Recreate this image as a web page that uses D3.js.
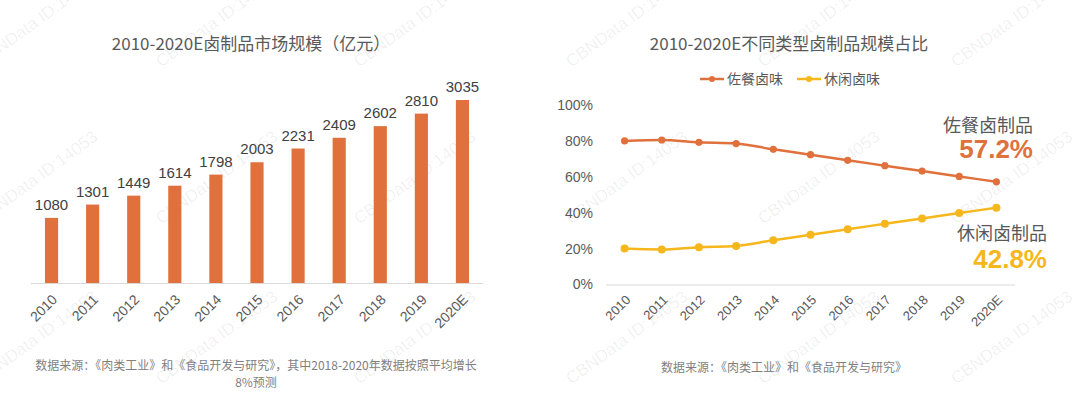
<!DOCTYPE html>
<html><head><meta charset="utf-8">
<script src="https://cdn.jsdelivr.net/npm/d3@7/dist/d3.min.js"></script>
<style>
html,body{margin:0;padding:0;background:#fff;}
svg{display:block;}
</style></head>
<body>
<svg id="chart" width="1080" height="399"></svg>
<script>
// ---- data ----
const years = ["2010","2011","2012","2013","2014","2015","2016","2017","2018","2019","2020E"];
const marketSize = [1080,1301,1449,1614,1798,2003,2231,2409,2602,2810,3035];
const mealShare = [80,80.5,79.2,78.5,75.3,72.3,69.2,66.2,63.2,60.2,57.2];   // 佐餐卤味
const snackShare = [20,19.5,20.8,21.5,24.7,27.7,30.8,33.8,36.8,39.8,42.8]; // 休闲卤味
const pctTicks = [0,20,40,60,80,100];
const seriesNames = ["佐餐卤味","休闲卤味"];
const leftTitle = "2010-2020E卤制品市场规模（亿元）";
const rightTitle = "2010-2020E不同类型卤制品规模占比";
const leftSource = ["数据来源：《肉类工业》和《食品开发与研究》，其中2018-2020年数据按照平均增长","8%预测"];
const rightSource = "数据来源：《肉类工业》和《食品开发与研究》";
const endLabels = [{name:"佐餐卤制品", value:"57.2%"},{name:"休闲卤制品", value:"42.8%"}];

const ORANGE = "#E0703C", YELLOW = "#F6B71C", TXT = "#595959", GRID = "#d9d9d9";
const CJK = "'Noto Sans CJK SC','Microsoft YaHei',sans-serif";
const NUM = "'Liberation Sans',Arial,sans-serif";

const svg = d3.select("#chart");

// ---- watermarks ----
const wmX = [40,220,418,630,822,1015], wmY = [25,182,342];
const wm = svg.append("g").attr("fill","#000").attr("fill-opacity",0.065)
  .attr("font-family", NUM).attr("font-size",17);
wmY.forEach(cy => wmX.forEach(cx => {
  wm.append("text").attr("text-anchor","middle")
    .attr("transform",`translate(${cx},${cy}) rotate(-36)`).text("CBNData ID:14053");
}));

// ---- left: bar chart ----
const xL = d3.scaleBand().domain(years).range([31,483]).paddingInner(0.68).paddingOuter(0.34);
const yL = d3.scaleLinear().domain([0,3500]).range([283,72]);
const gL = svg.append("g");
gL.append("text").attr("x",251).attr("y",50).attr("text-anchor","middle")
  .attr("font-family",CJK).attr("font-size",17).attr("fill",TXT).text(leftTitle);
gL.selectAll("rect.bar").data(marketSize).join("rect").attr("class","bar")
  .attr("x",(d,i)=>xL(years[i])).attr("width",xL.bandwidth())
  .attr("y",d=>yL(d)).attr("height",d=>yL(0)-yL(d)).attr("fill",ORANGE);
gL.selectAll("text.val").data(marketSize).join("text").attr("class","val")
  .attr("x",(d,i)=>xL(years[i])+xL.bandwidth()/2).attr("y",d=>yL(d)-8)
  .attr("text-anchor","middle").attr("font-family",NUM).attr("font-size",15).attr("fill","#404040")
  .text(d=>d);
const axL = gL.append("g").attr("transform",`translate(0,${yL(0)})`)
  .call(d3.axisBottom(xL).tickSize(0).tickSizeOuter(0).tickPadding(0));
axL.select(".domain").attr("stroke",GRID).attr("d","M31,0.5H483");
axL.selectAll(".tick text").attr("font-family",NUM).attr("font-size",14).attr("fill",TXT)
  .attr("text-anchor","end").attr("dy","0.35em").attr("y",0)
  .attr("transform","translate(3,14) rotate(-45)");
gL.append("g").selectAll("text").data(leftSource).join("text")
  .attr("x",256).attr("y",(d,i)=>370+i*17).attr("text-anchor","middle")
  .attr("font-family",CJK).attr("font-size",12).attr("fill","#7f7f7f").text(d=>d);

// ---- right: line chart ----
const xR = d3.scalePoint().domain(years).range([606,1015]).padding(0.5);
const yR = d3.scaleLinear().domain([0,100]).range([284.5,105]);
const gR = svg.append("g");
gR.append("text").attr("x",789).attr("y",50).attr("text-anchor","middle")
  .attr("font-family",CJK).attr("font-size",17).attr("fill",TXT).text(rightTitle);

const ayR = gR.append("g").attr("transform","translate(593,0)")
  .call(d3.axisLeft(yR).tickValues(pctTicks).tickFormat(d=>d+"%").tickSize(0).tickPadding(0));
ayR.select(".domain").remove();
ayR.selectAll(".tick text").attr("font-family",NUM).attr("font-size",14).attr("fill",TXT);

const axR = gR.append("g").attr("transform",`translate(0,${yR(0)})`)
  .call(d3.axisBottom(xR).tickSize(0).tickSizeOuter(0).tickPadding(0));
axR.select(".domain").attr("stroke",GRID).attr("d","M606,0.5H1015");
axR.selectAll(".tick text").attr("font-family",NUM).attr("font-size",13).attr("fill",TXT)
  .attr("text-anchor","end").attr("dy","0.35em").attr("y",0)
  .attr("transform","translate(3,13) rotate(-45)");

const series = [{vals:mealShare,color:ORANGE,r:3.6},{vals:snackShare,color:YELLOW,r:4}];
const line = d3.line().x((d,i)=>xR(years[i])).y(d=>yR(d)).curve(d3.curveMonotoneX);
series.forEach(s=>{
  gR.append("path").attr("d",line(s.vals)).attr("fill","none")
    .attr("stroke",s.color).attr("stroke-width",2.5);
  gR.selectAll(null).data(s.vals).join("circle")
    .attr("cx",(d,i)=>xR(years[i])).attr("cy",d=>yR(d)).attr("r",s.r).attr("fill",s.color);
});

// legend
const legX = [700,797];
seriesNames.forEach((n,i)=>{
  const lg = gR.append("g").attr("transform",`translate(${legX[i]},79)`);
  lg.append("line").attr("x1",0).attr("x2",24).attr("stroke",series[i].color).attr("stroke-width",2.5);
  lg.append("circle").attr("cx",12).attr("r",3).attr("fill",series[i].color);
  lg.append("text").attr("x",27).attr("dy","0.35em").attr("font-family",CJK)
    .attr("font-size",14).attr("fill",TXT).text(n);
});

// end annotations
const ann = [{x:1033,y1:132,y2:158,color:ORANGE},{x:1047,y1:240,y2:268,color:YELLOW}];
endLabels.forEach((e,i)=>{
  gR.append("text").attr("x",ann[i].x).attr("y",ann[i].y1).attr("text-anchor","end")
    .attr("font-family",CJK).attr("font-size",18).attr("fill",TXT).text(e.name);
  gR.append("text").attr("x",ann[i].x).attr("y",ann[i].y2).attr("text-anchor","end")
    .attr("font-family",NUM).attr("font-weight","bold").attr("font-size",26)
    .attr("fill",ann[i].color).text(e.value);
});

gR.append("text").attr("x",784).attr("y",372).attr("text-anchor","middle")
  .attr("font-family",CJK).attr("font-size",12).attr("fill","#7f7f7f").text(rightSource);
</script>
</body></html>
